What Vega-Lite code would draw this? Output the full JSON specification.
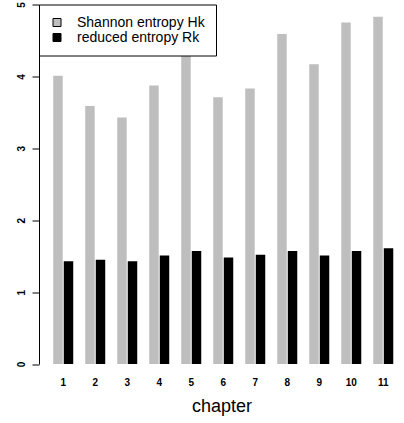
{
  "$schema": "https://vega.github.io/schema/vega-lite/v6.json",
  "width": 365,
  "height": 359.5,
  "autosize": {"type": "none"},
  "padding": {"left": 39, "top": 4.5, "right": 0, "bottom": 59},
  "config": {
    "view": {"stroke": null},
    "font": "Liberation Sans"
  },
  "datasets": {
    "bars": [
      {"chapter": 1, "series": "Shannon entropy Hk", "value": 4.01},
      {"chapter": 2, "series": "Shannon entropy Hk", "value": 3.59},
      {"chapter": 3, "series": "Shannon entropy Hk", "value": 3.43},
      {"chapter": 4, "series": "Shannon entropy Hk", "value": 3.875},
      {"chapter": 5, "series": "Shannon entropy Hk", "value": 4.35},
      {"chapter": 6, "series": "Shannon entropy Hk", "value": 3.71},
      {"chapter": 7, "series": "Shannon entropy Hk", "value": 3.83},
      {"chapter": 8, "series": "Shannon entropy Hk", "value": 4.59},
      {"chapter": 9, "series": "Shannon entropy Hk", "value": 4.17},
      {"chapter": 10, "series": "Shannon entropy Hk", "value": 4.75},
      {"chapter": 11, "series": "Shannon entropy Hk", "value": 4.83},
      {"chapter": 1, "series": "reduced entropy Rk", "value": 1.43},
      {"chapter": 2, "series": "reduced entropy Rk", "value": 1.45},
      {"chapter": 3, "series": "reduced entropy Rk", "value": 1.43},
      {"chapter": 4, "series": "reduced entropy Rk", "value": 1.51},
      {"chapter": 5, "series": "reduced entropy Rk", "value": 1.57},
      {"chapter": 6, "series": "reduced entropy Rk", "value": 1.48},
      {"chapter": 7, "series": "reduced entropy Rk", "value": 1.52},
      {"chapter": 8, "series": "reduced entropy Rk", "value": 1.57},
      {"chapter": 9, "series": "reduced entropy Rk", "value": 1.51},
      {"chapter": 10, "series": "reduced entropy Rk", "value": 1.57},
      {"chapter": 11, "series": "reduced entropy Rk", "value": 1.61}
    ]
  },
  "layer": [
    {
      "data": {"name": "bars"},
      "mark": {"type": "bar"},
      "encoding": {
        "x": {
          "field": "chapter",
          "type": "ordinal",
          "scale": {"paddingInner": 0.375, "paddingOuter": 0.39, "align": 0.57},
          "axis": {
            "title": "chapter",
            "titleFontSize": 18,
            "titleFontWeight": "normal",
            "titleColor": "black",
            "titlePadding": 10,
            "labelAngle": 0,
            "labelFontSize": 10,
            "labelFontWeight": "bold",
            "labelColor": "black",
            "labelPadding": 13,
            "ticks": false,
            "domain": false
          }
        },
        "xOffset": {
          "field": "series",
          "type": "nominal",
          "scale": {"domain": ["Shannon entropy Hk", "reduced entropy Rk"], "paddingInner": 0.1, "paddingOuter": 0}
        },
        "y": {
          "field": "value",
          "type": "quantitative",
          "scale": {"domain": [0, 5], "nice": false, "zero": true},
          "axis": {
            "title": null,
            "values": [0, 1, 2, 3, 4, 5],
            "format": "d",
            "grid": false,
            "tickSize": 7,
            "tickColor": "black",
            "domainColor": "black",
            "labelAngle": -90,
            "labelFontSize": 10,
            "labelFontWeight": "bold",
            "labelColor": "black",
            "labelPadding": 6
          }
        },
        "color": {
          "field": "series",
          "type": "nominal",
          "scale": {"domain": ["Shannon entropy Hk", "reduced entropy Rk"], "range": ["#bebebe", "#000000"]},
          "legend": {
            "title": null,
            "orient": "top-left",
            "offset": 0,
            "padding": 11,
            "strokeColor": "black",
            "fillColor": "white",
            "symbolType": "square",
            "symbolSize": 64,
            "symbolStrokeColor": "black",
            "symbolStrokeWidth": 1,
            "symbolOpacity": 1,
            "labelFontSize": 14,
            "labelColor": "black",
            "labelOffset": 13,
            "rowPadding": 1
          }
        }
      }
    },
    {
      "mark": {"type": "rule", "color": "#333333", "strokeWidth": 1.5, "strokeDash": [4.5, 3.3]},
      "encoding": {"y": {"datum": 1.6}}
    },
    {
      "mark": {"type": "rule", "color": "#bebebe", "strokeWidth": 2, "strokeDash": [9, 5]},
      "encoding": {"y": {"datum": 5}}
    }
  ]
}
